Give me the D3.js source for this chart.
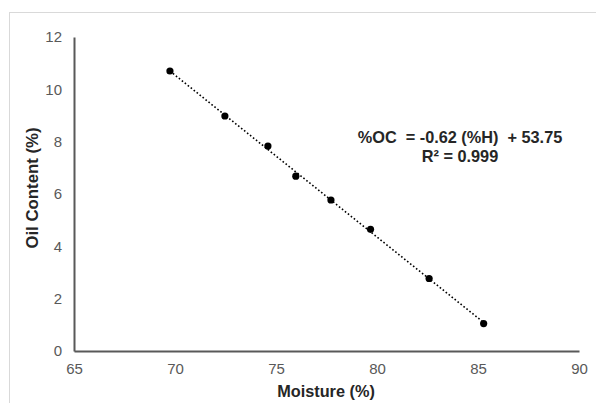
<!DOCTYPE html>
<html><head><meta charset="utf-8">
<script src="https://cdn.jsdelivr.net/npm/d3@7"></script>
<style>body{margin:0;background:#fff}svg{display:block}</style>
</head><body>
<svg id="c" width="596" height="403"></svg>
<script>
const moisture = [69.75, 72.47, 74.6, 75.98, 77.72, 79.68, 82.58, 85.28];
const oilContent = [10.70, 8.98, 7.83, 6.68, 5.77, 4.65, 2.77, 1.05];
const xTicks = [65, 70, 75, 80, 85, 90];
const yTicks = [0, 2, 4, 6, 8, 10, 12];
const eqLines = ["%OC  = -0.62 (%H)  + 53.75", "R² = 0.999"];

const svg = d3.select("#c");
const font = "'Liberation Sans', Arial, sans-serif";
svg.append("rect").attr("x",9.5).attr("y",12.5).attr("width",700).attr("height",500)
  .attr("fill","#fff").attr("stroke","#d9d9d9");

const x = d3.scaleLinear().domain([65,90]).range([74,579]);
const y = d3.scaleLinear().domain([0,12]).range([351,37]);

const xa = svg.append("g").attr("transform","translate(0,351)")
  .call(d3.axisBottom(x).tickValues(xTicks).tickSize(0).tickPadding(12).tickFormat(d3.format("d")));
const ya = svg.append("g").attr("transform","translate(74,0)")
  .call(d3.axisLeft(y).tickValues(yTicks).tickSize(0).tickPadding(12).tickFormat(d3.format("d")));
[xa,ya].forEach(a=>{
  a.select(".domain").attr("stroke","#595959").attr("stroke-width",2);
  a.selectAll("text").attr("font-family",font).attr("font-size",15).attr("fill","#595959");
});

// least-squares trendline
const mx = d3.mean(moisture), my = d3.mean(oilContent);
const slope = d3.sum(moisture.map((v,i)=>(v-mx)*(oilContent[i]-my))) / d3.sum(moisture.map(v=>(v-mx)**2));
const icpt = my - slope*mx;
const ext = d3.extent(moisture);
svg.append("line")
  .attr("x1",x(ext[0])).attr("y1",y(slope*ext[0]+icpt))
  .attr("x2",x(ext[1])).attr("y2",y(slope*ext[1]+icpt))
  .attr("stroke","#000").attr("stroke-width",1.6).attr("stroke-dasharray","1.6,2.2");

svg.append("g").selectAll("circle").data(moisture).join("circle")
  .attr("cx",d=>x(d)).attr("cy",(d,i)=>y(oilContent[i])).attr("r",3.6).attr("fill","#000");

svg.append("text").attr("x",326).attr("y",397).attr("text-anchor","middle")
  .attr("font-family",font).attr("font-size",16.3).attr("font-weight","bold").attr("fill","#262626")
  .text("Moisture (%)");
svg.append("text").attr("transform","translate(38,188) rotate(-90)").attr("text-anchor","middle")
  .attr("font-family",font).attr("font-size",16.8).attr("font-weight","bold").attr("fill","#262626")
  .text("Oil Content (%)");

svg.append("g").selectAll("text").data(eqLines).join("text")
  .attr("x",460).attr("y",(d,i)=>143+i*19).attr("text-anchor","middle")
  .attr("font-family",font).attr("font-size",16.3).attr("font-weight","bold").attr("fill","#262626")
  .style("white-space","pre").text(d=>d);
</script>
</body></html>
